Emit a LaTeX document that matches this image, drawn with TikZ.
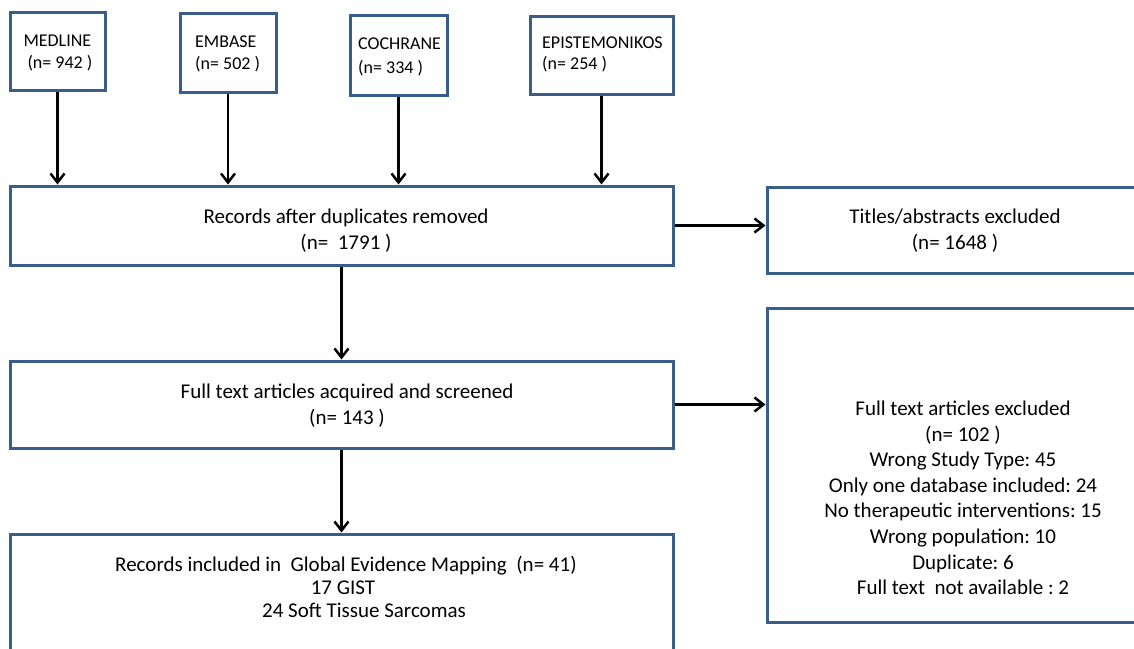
\documentclass[tikz,border=0pt]{standalone}
\usepackage{fontspec}
\setmainfont{Carlito}
\frenchspacing
\usetikzlibrary{arrows.meta,calc}
\definecolor{boxblue}{RGB}{58,94,140}
\tikzset{
  box/.style={draw=boxblue, line width=3pt, fill=white, rectangle, inner sep=0pt},
  arr/.style={draw=black, line width=2.5pt, -{Straight Barb[length=9pt,width=14pt]}},
  bigtxt/.style={font=\fontsize{21}{25.6}\selectfont, inner sep=0pt, anchor=base},
  smalltxt/.style={font=\fontsize{18}{22}\selectfont, inner sep=0pt, anchor=base west},
}
\begin{document}
\begin{tikzpicture}[x=1pt,y=-1pt]
\useasboundingbox (0,0) rectangle (1134,648);
\clip (0,0) rectangle (1134,648);
% source boxes
\node[box, minimum width=95pt, minimum height=78pt] (med) at (57.5,51) {};
\node[box, minimum width=96pt, minimum height=79pt] (emb) at (228,52.5) {};
\node[box, minimum width=97pt, minimum height=80pt] (coc) at (398.5,55) {};
\node[box, minimum width=143pt, minimum height=78pt] (epi) at (601.5,55) {};
\node[smalltxt] (medA) at (23.3,46) {MEDLINE};
\node[smalltxt] (medB) at (27.3,68) {(n= 942 )};
\node[smalltxt] (embA) at (195,47) {EMBASE};
\node[smalltxt] (embB) at (195,69) {(n= 502 )};
\node[smalltxt] (cocA) at (358,49) {COCHRANE};
\node[smalltxt] (cocB) at (358,73) {(n= 334 )};
\node[smalltxt] (epiA) at (542,48) {EPISTEMONIKOS};
\node[smalltxt] (epiB) at (542,69) {(n= 254 )};
% main boxes
\node[box, minimum width=663pt, minimum height=79pt] (rec) at (341.5,225.5) {};
\node[box, minimum width=376pt, minimum height=86pt] (tit) at (955,230) {};
\node[box, minimum width=663pt, minimum height=87pt] (ft) at (341.5,404.5) {};
\node[box, minimum width=392pt, minimum height=314pt] (exc) at (963,465) {};
\node[box, minimum width=663pt, minimum height=146pt] (fin) at (341.5,607) {};
% texts
\node[bigtxt] (recA) at (346,223.5) {Records after duplicates removed};
\node[bigtxt] (recB) at (346,249.5) {(n=~ 1791 )};
\node[bigtxt] (titA) at (955,223.5) {Titles/abstracts excluded};
\node[bigtxt] (titB) at (955,249.5) {(n= 1648 )};
\node[bigtxt] (ftA) at (347,398.5) {Full text articles acquired and screened};
\node[bigtxt] (ftB) at (347,424.5) {(n= 143 )};
\foreach \t [count=\i from 0] in {Full text articles excluded,(n= 102 ),Wrong Study Type: 45,Only one database included: 24,No therapeutic interventions: 15,Wrong population: 10,Duplicate: 6,Full text~ not available : 2}{
  \node[bigtxt] (exc\i) at (963,415.5+25.6*\i) {\t};
}
\node[bigtxt] (finA) at (346,571.5) {Records included in~ Global Evidence Mapping~ (n= 41)};
\node[bigtxt] (finB) at (343,594.5) {17 GIST};
\node[bigtxt] (finC) at (364,617.5) {24 Soft Tissue Sarcomas};
% connectors
\foreach \b in {med,emb,coc,epi}{
  \draw[arr] (\b.south) -- (\b.south |- rec.north);
}
\draw[arr] (rec.east) -- (rec.east -| tit.west);
\draw[arr] (rec.south) -- (ft.north);
\draw[arr] (ft.east) -- (ft.east -| exc.west);
\draw[arr] (ft.south) -- (fin.north);
\end{tikzpicture}
\end{document}
